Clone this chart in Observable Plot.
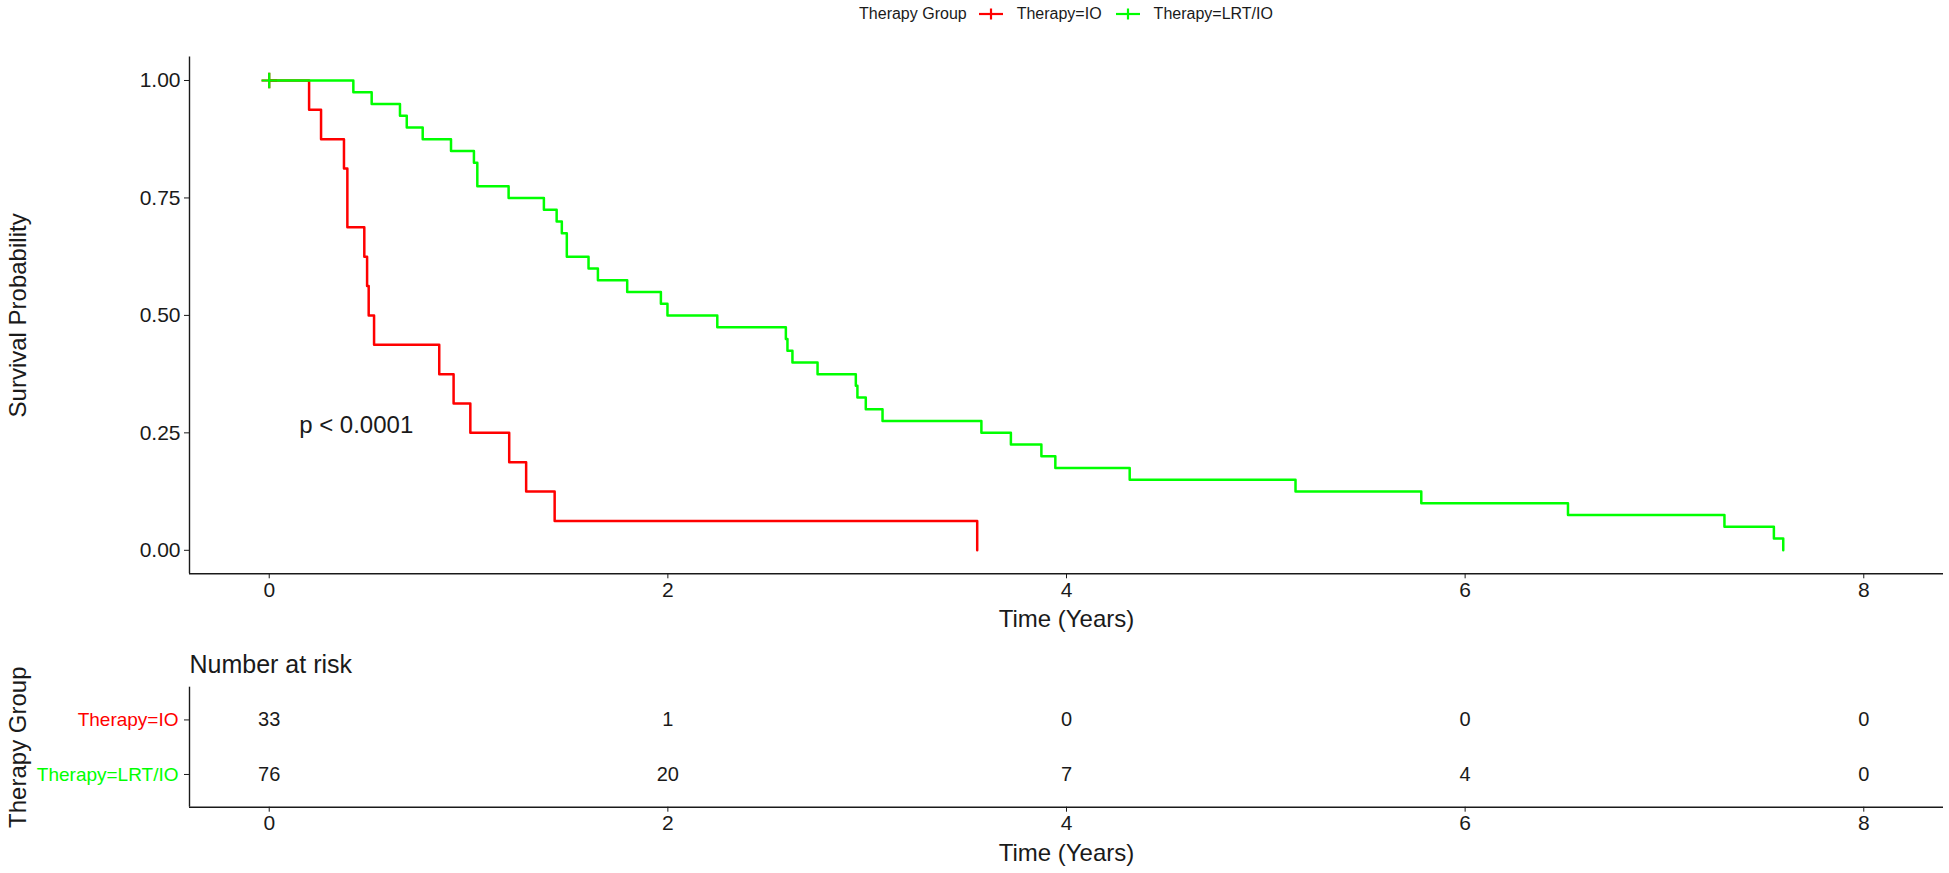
<!DOCTYPE html>
<html>
<head>
<meta charset="utf-8">
<script src="https://cdn.jsdelivr.net/npm/d3@7"></script>
<script src="https://cdn.jsdelivr.net/npm/@observablehq/plot@0.6"></script>
<style>
  html, body { margin: 0; padding: 0; background: #fff; }
  #root { position: relative; width: 1949px; height: 873px; background: #fff; font-family: "Liberation Sans", Arial, sans-serif; color: #1a1a1a; overflow: hidden; }
  #main { position: absolute; left: 0; top: 0; }
  #table { position: absolute; left: 0; top: 640px; }
  #legend { position: absolute; left: 189px; width: 1754px; top: 3px; height: 22px; display: flex; justify-content: center; align-items: center; font-size: 16px; color: #1a1a1a; }
  #legend .title { margin-right: 12px; }
  #legend svg { margin-right: 14px; }
  #legend .lab { margin-right: 14px; }
</style>
</head>
<body>
<div id="root">
  <div id="main"></div>
  <div id="table"></div>
  <div id="legend"></div>
</div>
<script>
// ---------------- data ----------------
const groups = ["Therapy=IO", "Therapy=LRT/IO"];
const palette = ["#FF0000", "#00FF00"];

// Kaplan-Meier step points, Therapy=IO
const ioTime = [0, 0.200, 0.260, 0.375, 0.392, 0.477, 0.491, 0.499, 0.526, 0.853, 0.925, 1.009, 1.204, 1.289, 1.432, 3.552];
const ioSurv = [1, 0.9375, 0.875, 0.8125, 0.6875, 0.625, 0.5625, 0.5, 0.4375, 0.375, 0.3125, 0.25, 0.1875, 0.125, 0.0625, 0];

// Kaplan-Meier step points, Therapy=LRT/IO
const lrtTime = [0, 0.422, 0.514, 0.656, 0.690, 0.770, 0.912, 1.027, 1.044, 1.201, 1.378, 1.442, 1.468, 1.493, 1.602, 1.649, 1.796, 1.965, 1.998, 2.248, 2.592, 2.600, 2.625, 2.751, 2.943, 2.951, 2.993, 3.077, 3.573, 3.721, 3.874, 3.944, 4.317, 5.149, 5.780, 6.516, 7.301, 7.549, 7.596];
const lrtSurv = [1, 0.975, 0.95, 0.925, 0.9, 0.875, 0.85, 0.825, 0.775, 0.75, 0.725, 0.7, 0.675, 0.625, 0.6, 0.575, 0.55, 0.525, 0.5, 0.475, 0.45, 0.425, 0.4, 0.375, 0.35, 0.325, 0.3, 0.275, 0.25, 0.225, 0.2, 0.175, 0.15, 0.125, 0.1, 0.075, 0.05, 0.025, 0];

// censoring marks (time, survival)
const censorTime = [0, 0];
const censorSurv = [1, 1];

const xTicks = [0, 2, 4, 6, 8];
const yTicks = [0, 0.25, 0.5, 0.75, 1];

// number at risk
const riskTimes = [0, 2, 4, 6, 8];
const riskIO = [33, 1, 0, 0, 0];
const riskLRT = [76, 20, 7, 4, 0];

const pText = "p < 0.0001";

// ---------------- build ----------------
const curves = [
  ...ioTime.map((t, i) => ({group: groups[0], time: t, surv: ioSurv[i]})),
  ...lrtTime.map((t, i) => ({group: groups[1], time: t, surv: lrtSurv[i]}))
];
const censors = groups.map((g, i) => ({group: g, time: censorTime[i], surv: censorSurv[i]}));
const rows = groups.map((g, i) => ({group: g, row: i + 1}));
const risk = [
  ...riskTimes.map((t, i) => ({group: groups[0], row: 1, time: t, n: riskIO[i]})),
  ...riskTimes.map((t, i) => ({group: groups[1], row: 2, time: t, n: riskLRT[i]}))
];

const FONT = '"Liberation Sans", Arial, sans-serif';
const INK = "#1a1a1a";
const xDomain = [-0.4, 8.4];

const main = Plot.plot({
  width: 1949, height: 640,
  marginTop: 56.5, marginBottom: 66.7, marginLeft: 189, marginRight: 6,
  style: {fontFamily: FONT, color: INK, background: "transparent", overflow: "visible"},
  x: {domain: xDomain},
  y: {domain: [-0.05, 1.05]},
  color: {domain: groups, range: palette},
  marks: [
    Plot.axisX({ticks: xTicks, tickSize: 5, tickPadding: 3, fontSize: 21, label: null}),
    Plot.axisY({ticks: yTicks, tickFormat: d3.format(".2f"), tickSize: 5, tickPadding: 4, fontSize: 21, label: null}),
    Plot.ruleX([xDomain[0]], {stroke: INK, strokeWidth: 1.4}),
    Plot.ruleY([-0.05], {stroke: INK, strokeWidth: 1.4}),
    Plot.line(curves, {x: "time", y: "surv", z: "group", stroke: "group", curve: "step-after", strokeWidth: 2.5}),
    Plot.dot(censors, {x: "time", y: "surv", stroke: "group", symbol: "plus", r: 5, strokeWidth: 2.2}),
    Plot.text([pText], {x: 0.15, y: 0.265, text: d => d, textAnchor: "start", fontSize: 24, fill: INK}),
    Plot.text(["Survival Probability"], {frameAnchor: "left", dx: -171, rotate: -90, textAnchor: "middle", lineAnchor: "middle", text: d => d, fontSize: 24, fill: INK}),
    Plot.text(["Time (Years)"], {frameAnchor: "bottom", dy: 46, textAnchor: "middle", lineAnchor: "middle", text: d => d, fontSize: 24, fill: INK})
  ]
});
document.getElementById("main").appendChild(main);

const table = Plot.plot({
  width: 1949, height: 233,
  marginTop: 46.7, marginBottom: 66.3, marginLeft: 189, marginRight: 6,
  style: {fontFamily: FONT, color: INK, background: "transparent", overflow: "visible"},
  x: {domain: xDomain},
  y: {domain: [2.6, 0.4]},
  color: {domain: groups, range: palette},
  marks: [
    Plot.axisX({ticks: xTicks, tickSize: 5, tickPadding: 3, fontSize: 21, label: null}),
    Plot.axisY({ticks: [1, 2], tickFormat: () => "", tickSize: 5, label: null}),
    Plot.ruleX([xDomain[0]], {stroke: INK, strokeWidth: 1.4}),
    Plot.ruleY([2.6], {stroke: INK, strokeWidth: 1.4}),
    Plot.text(rows, {y: "row", text: "group", fill: "group", frameAnchor: "left", textAnchor: "end", lineAnchor: "middle", dx: -11, fontSize: 19}),
    Plot.text(risk, {x: "time", y: "row", text: d => String(d.n), fontSize: 20, fill: INK}),
    Plot.text(["Number at risk"], {frameAnchor: "top-left", textAnchor: "start", lineAnchor: "middle", dy: -22, text: d => d, fontSize: 25, fill: INK}),
    Plot.text(["Therapy Group"], {frameAnchor: "left", dx: -171, rotate: -90, textAnchor: "middle", lineAnchor: "middle", text: d => d, fontSize: 24, fill: INK}),
    Plot.text(["Time (Years)"], {frameAnchor: "bottom", dy: 46, textAnchor: "middle", lineAnchor: "middle", text: d => d, fontSize: 24, fill: INK})
  ]
});
document.getElementById("table").appendChild(table);

// legend (HTML, above plot)
const legend = document.getElementById("legend");
const t = document.createElement("span");
t.className = "title";
t.textContent = "Therapy Group";
legend.appendChild(t);
groups.forEach((g, i) => {
  const ns = "http://www.w3.org/2000/svg";
  const s = document.createElementNS(ns, "svg");
  s.setAttribute("width", 24); s.setAttribute("height", 14);
  const h = document.createElementNS(ns, "line");
  h.setAttribute("x1", 0); h.setAttribute("x2", 24); h.setAttribute("y1", 7); h.setAttribute("y2", 7);
  h.setAttribute("stroke", palette[i]); h.setAttribute("stroke-width", 2.2);
  const v = document.createElementNS(ns, "line");
  v.setAttribute("x1", 12); v.setAttribute("x2", 12); v.setAttribute("y1", 1.5); v.setAttribute("y2", 12.5);
  v.setAttribute("stroke", palette[i]); v.setAttribute("stroke-width", 2.2);
  s.appendChild(h); s.appendChild(v);
  legend.appendChild(s);
  const l = document.createElement("span");
  l.className = "lab";
  l.textContent = g;
  if (i === groups.length - 1) l.style.marginRight = "0";
  legend.appendChild(l);
});
</script>
</body>
</html>
